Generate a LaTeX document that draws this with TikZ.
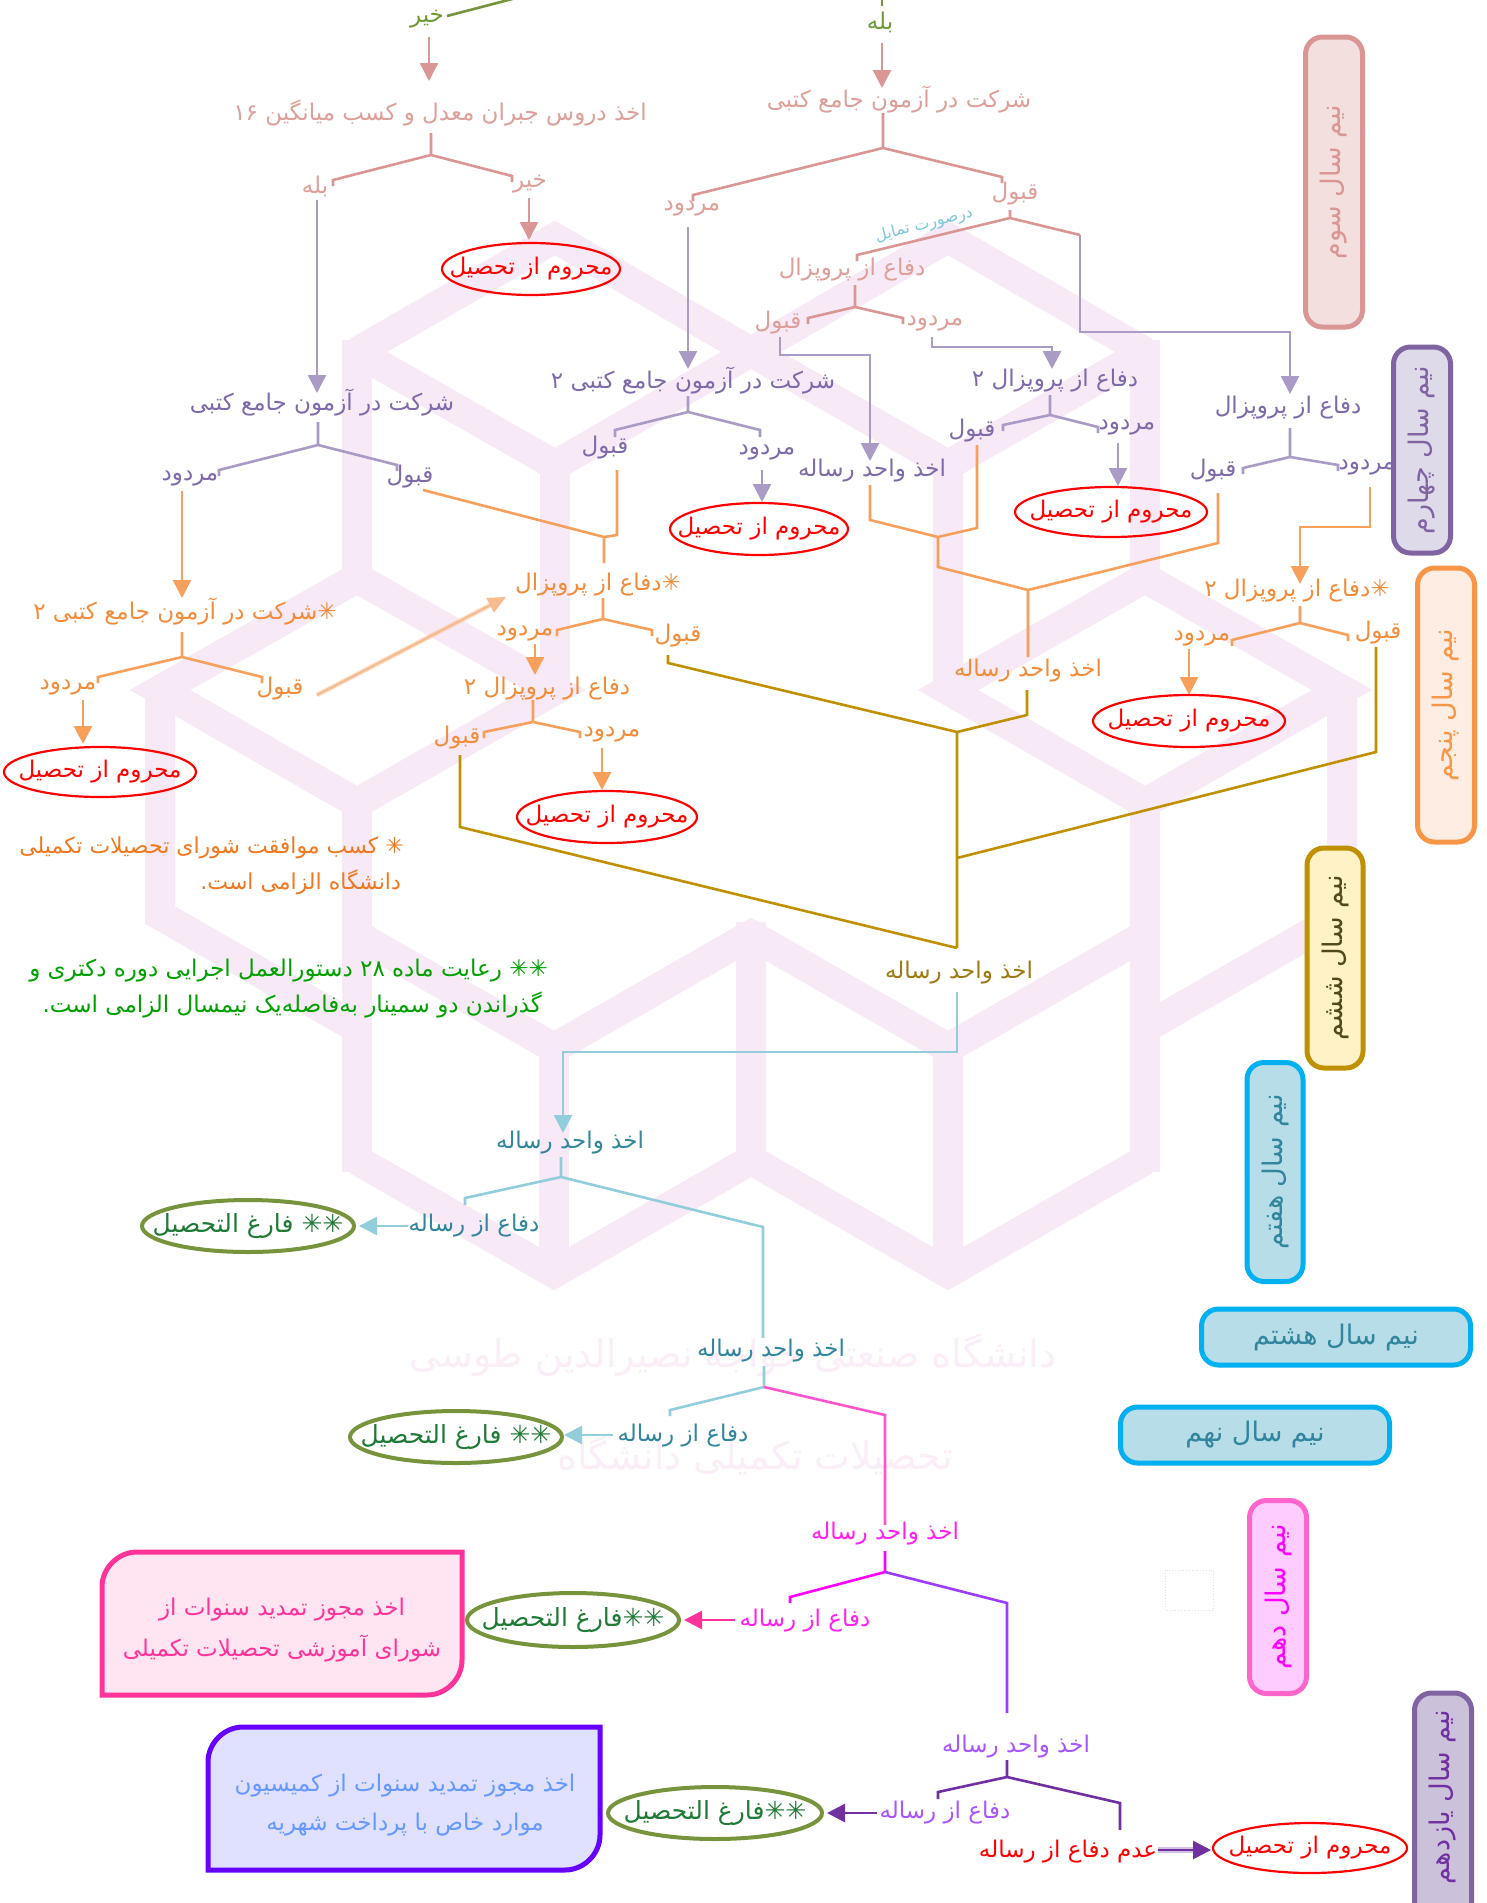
\documentclass[tikz,border=0pt]{standalone}
\usepackage{fontspec}
\TeXXeTstate=1
\newfontfamily\fa[Script=Arabic]{DejaVu Sans}
\usetikzlibrary{arrows.meta,shapes.geometric,calc}
\newcommand\R[1]{\beginR#1\endR}
\definecolor{pb}{HTML}{D99694}
\definecolor{pbt}{HTML}{DE9F99}
\definecolor{gr}{HTML}{77933C}
\definecolor{grtx}{HTML}{6E9B3A}
\definecolor{pl}{HTML}{A99BC6}
\definecolor{plt}{HTML}{7E6AAA}
\definecolor{orl}{HTML}{F6A05C}
\definecolor{ort}{HTML}{F28C3A}
\definecolor{orb}{HTML}{F9BC8E}
\definecolor{gd}{HTML}{BF9000}
\definecolor{gdt}{HTML}{9C7A14}
\definecolor{cyl}{HTML}{92CDDC}
\definecolor{cyt}{HTML}{31859C}
\definecolor{tam}{HTML}{7CC8D8}
\definecolor{pkl}{HTML}{FF55CC}
\definecolor{pka}{HTML}{FF3399}
\definecolor{mg}{HTML}{FF00FF}
\definecolor{mgt}{HTML}{FF22EE}
\definecolor{vl}{HTML}{9B3DFF}
\definecolor{dv}{HTML}{7030A0}
\definecolor{vt}{HTML}{A855FF}
\definecolor{fgt}{HTML}{1F7A35}
\definecolor{fn1}{HTML}{F07820}
\definecolor{fn2}{HTML}{00A000}
\definecolor{pkbf}{HTML}{FFE4F2}
\definecolor{pbbf}{HTML}{E0E0FF}
\definecolor{pbbd}{HTML}{6600FF}
\definecolor{pbbt}{HTML}{6699FF}
\definecolor{wmt}{HTML}{FCEEF8}
\definecolor{wmb}{HTML}{F7EAF6}
\tikzset{
  lbl/.style={font=\fa\fontsize{23}{27}\selectfont,inner sep=0pt},
  ln/.style={line width=2.6pt},
  arr/.style={ln,-{Triangle[width=18pt,length=18pt]}},
  redell/.style={draw=red,line width=2.2pt},
  grell/.style={draw=gr,line width=4pt},
  elltxt/.style={font=\fa\fontsize{23}{27}\selectfont,inner sep=0pt,text=red},
  fartxt/.style={font=\fa\fontsize{25}{29}\selectfont,inner sep=0pt,text=fgt},
  sembox/.style={rounded corners=17pt,line width=5pt,inner sep=0pt,font=\fa\fontsize{27}{31}\selectfont},
  foot/.style={font=\fa\fontsize{22}{26}\selectfont,inner sep=0pt,anchor=east},
  wmband/.style={draw=wmb,line width=30pt,line join=miter,line cap=butt},
}
\begin{document}
\begin{tikzpicture}[x=1pt,y=-1pt]
\useasboundingbox (0,0) rectangle (1487,1903);
\fill[white] (0,0) rectangle (1487,1903);

% ---------- background cube pattern ----------
\draw[wmband] (357,352) -- (555,238) -- (751,352) -- (948,238) -- (1145,352);
\draw[wmband] (357,352) -- (555,465) -- (751,352) -- (948,465) -- (1145,352);
\draw[wmband] (357,340) -- (357,578) (555,465) -- (555,690) (948,465) -- (948,690) (1145,340) -- (1145,578);
\draw[wmband] (160,690) -- (357,578) -- (555,690) -- (357,803) -- cycle;
\draw[wmband] (160,690) -- (160,915) -- (357,1028);
\draw[wmband] (357,803) -- (357,1172);
\draw[wmband] (948,690) -- (1145,578) -- (1342,690) -- (1145,803) -- cycle;
\draw[wmband] (1342,690) -- (1342,915) -- (1145,1028);
\draw[wmband] (1145,803) -- (1145,1172);
\draw[wmband] (357,935) -- (554,1048) -- (751,935) -- (948,1048) -- (1145,935);
\draw[wmband] (554,1048) -- (554,1273) (751,922) -- (751,1160) (948,1048) -- (948,1273);
\draw[wmband] (357,1160) -- (554,1273) -- (751,1160) -- (948,1273) -- (1145,1160);

% faint watermark text
\node[font=\fa\fontsize{38}{42}\selectfont,text=wmt,inner sep=0pt] (wm1) at (733,1355) {\R{دانشگاه صنعتی خواجه نصیرالدین طوسی}};
\node[font=\fa\fontsize{38}{42}\selectfont,text=wmt,inner sep=0pt] (wm2) at (755,1455) {\R{تحصیلات تکمیلی دانشگاه}};

% ---------- top left ----------
\coordinate (gA) at (516,-2); \coordinate (gB) at (447,16);
\draw[ln,gr] (gA) -- (gB);
\coordinate (gC) at (882,-2); \coordinate (gD) at (882,6);
\draw[ln,gr] (gC) -- (gD);
\node[lbl,text=grtx] (kh1) at (427,19) {\R{خیر}};
\node[lbl,text=grtx] (bl1) at (880,22) {\R{بله}};
\coordinate (a1s) at (429,37); \coordinate (a1e) at (429,81);
\draw[arr,pb] (a1s) -- (a1e);
\node[lbl,text=pbt] (jobran) at (440,113) {\R{اخذ دروس جبران معدل و کسب میانگین ۱۶}};
\coordinate (jbS) at (431,133); \coordinate (jbJ) at (431,155);
\coordinate (jbL) at (333,180); \coordinate (jbLt) at (333,186);
\coordinate (jbR) at (512,176); \coordinate (jbRt) at (512,182);
\draw[ln,pb] (jbS) -- (jbJ) (jbLt) -- (jbL) -- (jbJ) -- (jbR) -- (jbRt);
\node[lbl,text=pbt] (bl2) at (315,186) {\R{بله}};
\node[lbl,text=pbt] (kh2) at (530,184) {\R{خیر}};
\coordinate (a2s) at (529,198); \coordinate (a2e) at (529,240);
\draw[arr,pb] (a2s) -- (a2e);
\node[elltxt] (m1) at (531,269) {\R{محروم از تحصیل}};
\draw[redell] (m1.center) ellipse [x radius=89pt,y radius=26pt];

% purple left
\coordinate (a3s) at (317,200); \coordinate (a3e) at (317,393);
\draw[arr,pl] (a3s) -- (a3e);
\node[lbl,text=plt] (sk1) at (322,403) {\R{شرکت در آزمون جامع کتبی}};
\coordinate (s1S) at (318,422); \coordinate (s1J) at (318,445);
\coordinate (s1L) at (219,470); \coordinate (s1Lt) at (219,476);
\coordinate (s1R) at (397,465); \coordinate (s1Rt) at (397,471);
\draw[ln,pl] (s1S) -- (s1J) (s1Lt) -- (s1L) -- (s1J) -- (s1R) -- (s1Rt);
\node[lbl,text=plt] (md1) at (190,479) {\R{مردود}};
\node[lbl,text=plt] (qb1) at (410,477) {\R{قبول}};

% orange left
\coordinate (a4s) at (182,491); \coordinate (a4e) at (182,598);
\draw[arr,orl] (a4s) -- (a4e);
\node[lbl,text=ort] (sk2) at (185,612) {\R{✳شرکت در آزمون جامع کتبی ۲}};
\coordinate (s2S) at (182,632); \coordinate (s2J) at (182,657);
\coordinate (s2L) at (98,677); \coordinate (s2Lt) at (98,683);
\coordinate (s2R) at (262,677); \coordinate (s2Rt) at (262,683);
\draw[ln,orl] (s2S) -- (s2J) (s2Lt) -- (s2L) -- (s2J) -- (s2R) -- (s2Rt);
\node[lbl,text=ort] (md2) at (68,688) {\R{مردود}};
\node[lbl,text=ort] (qb2) at (280,689) {\R{قبول}};
\coordinate (a5s) at (83,700); \coordinate (a5e) at (83,744);
\draw[arr,orl] (a5s) -- (a5e);
\node[elltxt] (m2) at (100,772) {\R{محروم از تحصیل}};
\draw[redell] (m2.center) ellipse [x radius=96pt,y radius=25pt];
\coordinate (a6s) at (317,695); \coordinate (a6e) at (506,597);
\draw[line width=5pt,orb,opacity=0.35] (a6s) -- ($(a6s)!0.93!(a6e)$);
\draw[ln,orb,-{Triangle[width=16pt,length=18pt]}] (a6s) -- (a6e);

% ---------- top right ----------
\coordinate (a7s) at (882,43); \coordinate (a7e) at (882,88);
\draw[arr,pb] (a7s) -- (a7e);
\node[lbl,text=pbt] (sk3) at (899,100) {\R{شرکت در آزمون جامع کتبی}};
\coordinate (s3S) at (883,113); \coordinate (s3J) at (883,148);
\coordinate (s3L) at (693,195); \coordinate (s3Lt) at (693,201);
\coordinate (s3R) at (1002,177); \coordinate (s3Rt) at (1002,183);
\draw[ln,pb] (s3S) -- (s3J) (s3Lt) -- (s3L) -- (s3J) -- (s3R) -- (s3Rt);
\node[lbl,text=pbt] (md3) at (692,209) {\R{مردود}};
\node[lbl,text=pbt] (qb3) at (1015,194) {\R{قبول}};
\coordinate (q3S) at (1010,210); \coordinate (q3J) at (1010,218);
\coordinate (q3R) at (1080,235); \coordinate (q3L) at (857,255); \coordinate (q3Lt) at (857,261);
\draw[ln,pb] (q3S) -- (q3J) -- (q3R) (q3J) -- (q3L) -- (q3Lt);
\coordinate (p1) at (1080,332); \coordinate (p2) at (1290,332); \coordinate (p3) at (1290,394);
\draw[arr,pl] (q3R) -- (p1) -- (p2) -- (p3);
\node[font=\fa\fontsize{16}{19}\selectfont,text=tam,inner sep=0pt,rotate=14] (tam) at (924,225) {\R{درصورت تمایل}};
\node[lbl,text=pbt] (df1) at (852,270) {\R{دفاع از پروپزال}};
\coordinate (d1S) at (855,285); \coordinate (d1J) at (855,307);
\coordinate (d1L) at (808,318); \coordinate (d1Lt) at (808,324);
\coordinate (d1R) at (903,318); \coordinate (d1Rt) at (903,324);
\draw[ln,pb] (d1S) -- (d1J) (d1Lt) -- (d1L) -- (d1J) -- (d1R) -- (d1Rt);
\node[lbl,text=pbt] (qb4) at (778,323) {\R{قبول}};
\node[lbl,text=pbt] (md4) at (935,324) {\R{مردود}};
\coordinate (p4) at (780,337); \coordinate (p5) at (780,355); \coordinate (p6) at (870,355); \coordinate (p7) at (870,461);
\draw[arr,pl] (p4) -- (p5) -- (p6) -- (p7);
\node[lbl,text=plt] (ak1) at (872,471) {\R{اخذ واحد رساله}};
\coordinate (p8) at (932,337); \coordinate (p9) at (932,347); \coordinate (p10) at (1052,347); \coordinate (p11) at (1052,369);
\draw[arr,pl] (p8) -- (p9) -- (p10) -- (p11);
\node[lbl,text=plt] (df2) at (1055,381) {\R{دفاع از پروپزال ۲}};
\coordinate (d2S) at (1050,395); \coordinate (d2J) at (1050,415);
\coordinate (d2L) at (1003,425); \coordinate (d2Lt) at (1003,431);
\coordinate (d2R) at (1098,427); \coordinate (d2Rt) at (1098,433);
\draw[ln,pl] (d2S) -- (d2J) (d2Lt) -- (d2L) -- (d2J) -- (d2R) -- (d2Rt);
\node[lbl,text=plt] (qb5) at (972,431) {\R{قبول}};
\node[lbl,text=plt] (md5) at (1127,428) {\R{مردود}};
\coordinate (a8s) at (1118,443); \coordinate (a8e) at (1118,486);
\draw[arr,pl] (a8s) -- (a8e);
\node[elltxt] (m3) at (1111,512) {\R{محروم از تحصیل}};
\draw[redell] (m3.center) ellipse [x radius=96pt,y radius=25pt];
\node[lbl,text=plt] (df3) at (1288,408) {\R{دفاع از پروپزال}};
\coordinate (d3S) at (1290,428); \coordinate (d3J) at (1290,457);
\coordinate (d3L) at (1243,468); \coordinate (d3Lt) at (1243,474);
\coordinate (d3R) at (1338,465); \coordinate (d3Rt) at (1338,471);
\draw[ln,pl] (d3S) -- (d3J) (d3Lt) -- (d3L) -- (d3J) -- (d3R) -- (d3Rt);
\node[lbl,text=plt] (qb6) at (1213,471) {\R{قبول}};
\node[lbl,text=plt] (md6) at (1367,468) {\R{مردود}};

% purple middle
\coordinate (a9s) at (688,227); \coordinate (a9e) at (688,369);
\draw[arr,pl] (a9s) -- (a9e);
\node[lbl,text=plt] (sk4) at (693,381) {\R{شرکت در آزمون جامع کتبی ۲}};
\coordinate (s4S) at (688,396); \coordinate (s4J) at (688,412);
\coordinate (s4L) at (615,430); \coordinate (s4Lt) at (615,437);
\coordinate (s4R) at (760,430); \coordinate (s4Rt) at (760,437);
\draw[ln,pl] (s4S) -- (s4J) (s4Lt) -- (s4L) -- (s4J) -- (s4R) -- (s4Rt);
\node[lbl,text=plt] (qb7) at (605,448) {\R{قبول}};
\node[lbl,text=plt] (md7) at (767,453) {\R{مردود}};
\coordinate (a10s) at (762,470); \coordinate (a10e) at (762,502);
\draw[arr,pl] (a10s) -- (a10e);
\node[elltxt] (m4) at (759,529) {\R{محروم از تحصیل}};
\draw[redell] (m4.center) ellipse [x radius=89pt,y radius=26pt];

% orange middle
\coordinate (o1) at (617,470); \coordinate (o2) at (617,535); \coordinate (J1) at (604,537);
\coordinate (o3) at (423,490); \coordinate (o4) at (604,563);
\draw[ln,orl] (o1) -- (o2) -- (J1) (o3) -- (J1) -- (o4);
\node[lbl,text=ort] (df4) at (598,585) {\R{✳دفاع از پروپزال}};
\coordinate (d4S) at (603,598); \coordinate (d4J) at (603,619);
\coordinate (d4L) at (557,630); \coordinate (d4Lt) at (557,636);
\coordinate (d4R) at (652,630); \coordinate (d4Rt) at (652,636);
\draw[ln,orl] (d4S) -- (d4J) (d4Lt) -- (d4L) -- (d4J) -- (d4R) -- (d4Rt);
\node[lbl,text=ort] (md8) at (525,634) {\R{مردود}};
\node[lbl,text=ort] (qb8) at (678,636) {\R{قبول}};
\coordinate (a11s) at (535,644); \coordinate (a11e) at (535,675);
\draw[arr,orl] (a11s) -- (a11e);
\node[lbl,text=ort] (df5) at (547,689) {\R{دفاع از پروپزال ۲}};
\coordinate (d5S) at (533,700); \coordinate (d5J) at (533,722);
\coordinate (d5L) at (484,732); \coordinate (d5Lt) at (484,738);
\coordinate (d5R) at (580,732); \coordinate (d5Rt) at (580,738);
\draw[ln,orl] (d5S) -- (d5J) (d5Lt) -- (d5L) -- (d5J) -- (d5R) -- (d5Rt);
\node[lbl,text=ort] (qb9) at (457,738) {\R{قبول}};
\node[lbl,text=ort] (md9) at (612,735) {\R{مردود}};
\coordinate (a12s) at (602,748); \coordinate (a12e) at (602,790);
\draw[arr,orl] (a12s) -- (a12e);
\node[elltxt] (m5) at (607,817) {\R{محروم از تحصیل}};
\draw[redell] (m5.center) ellipse [x radius=90pt,y radius=26pt];

\coordinate (o5) at (870,485); \coordinate (o6) at (870,520); \coordinate (J2) at (938,537);
\coordinate (o7) at (977,445); \coordinate (o8) at (977,528);
\coordinate (o9) at (938,567); \coordinate (J3) at (1028,590);
\coordinate (o10) at (1218,493); \coordinate (o11) at (1218,543); \coordinate (o12) at (1028,657);
\draw[ln,orl] (o5) -- (o6) -- (J2) (o7) -- (o8) -- (J2) -- (o9) -- (J3) (o10) -- (o11) -- (J3) -- (o12);
\node[lbl,text=ort] (ak2) at (1028,671) {\R{اخذ واحد رساله}};
\coordinate (o13) at (1370,487); \coordinate (o14) at (1370,527); \coordinate (o15) at (1300,527); \coordinate (o16) at (1300,584);
\draw[arr,orl] (o13) -- (o14) -- (o15) -- (o16);
\node[lbl,text=ort] (df6) at (1297,591) {\R{✳دفاع از پروپزال ۲}};
\coordinate (d6S) at (1300,606); \coordinate (d6J) at (1300,623);
\coordinate (d6L) at (1232,640); \coordinate (d6Lt) at (1232,646);
\coordinate (d6R) at (1348,635); \coordinate (d6Rt) at (1348,641);
\draw[ln,orl] (d6S) -- (d6J) (d6Lt) -- (d6L) -- (d6J) -- (d6R) -- (d6Rt);
\node[lbl,text=ort] (md10) at (1202,639) {\R{مردود}};
\node[lbl,text=ort] (qb10) at (1378,633) {\R{قبول}};
\coordinate (a13s) at (1189,649); \coordinate (a13e) at (1189,695);
\draw[arr,orl] (a13s) -- (a13e);
\node[elltxt] (m6) at (1189,721) {\R{محروم از تحصیل}};
\draw[redell] (m6.center) ellipse [x radius=96pt,y radius=26pt];

% gold
\coordinate (g1) at (668,655); \coordinate (g2) at (668,663); \coordinate (J4) at (957,732);
\coordinate (g3) at (1027,690); \coordinate (g4) at (1027,715);
\coordinate (J5) at (957,858); \coordinate (J6) at (957,948);
\coordinate (g5) at (1376,647); \coordinate (g6) at (1376,752);
\coordinate (g7) at (460,755); \coordinate (g8) at (460,827);
\draw[ln,gd] (g1) -- (g2) -- (J4) (g3) -- (g4) -- (J4) -- (J5) -- (J6) (g5) -- (g6) -- (J5) (g7) -- (g8) -- (J6);
\node[lbl,text=gdt] (ak3) at (959,973) {\R{اخذ واحد رساله}};

% footnotes
\node[foot,text=fn1] (ft1a) at (404,848) {\R{✳ کسب موافقت شورای تحصیلات تکمیلی}};
\node[foot,text=fn1] (ft1b) at (401,882) {\R{دانشگاه الزامی است.}};
\node[foot,text=fn2,font=\fa\fontsize{23}{27}\selectfont] (ft2a) at (548,971) {\R{✳✳ رعایت ماده ۲۸ دستورالعمل اجرایی دوره دکتری و}};
\node[foot,text=fn2,font=\fa\fontsize{23}{27}\selectfont] (ft2b) at (542,1005) {\R{گذراندن دو سمینار به‌فاصله‌یک نیمسال الزامی است.}};

% cyan
\coordinate (c1) at (957,992); \coordinate (c2) at (957,1052); \coordinate (c3) at (563,1052); \coordinate (c4) at (563,1133);
\draw[arr,cyl] (c1) -- (c2) -- (c3) -- (c4);
\node[lbl,text=cyt] (ak4) at (570,1143) {\R{اخذ واحد رساله}};
\coordinate (k1S) at (561,1157); \coordinate (k1J) at (561,1177);
\coordinate (k1L) at (465,1198); \coordinate (k1Lt) at (465,1205);
\coordinate (k1R) at (763,1227); \coordinate (k1Rb) at (763,1338);
\draw[ln,cyl] (k1S) -- (k1J) (k1Lt) -- (k1L) -- (k1J) -- (k1R) -- (k1Rb);
\node[lbl,text=cyt] (dr1) at (474,1226) {\R{دفاع از رساله}};
\coordinate (a14s) at (408,1226); \coordinate (a14e) at (359,1226);
\draw[arr,cyl] (a14s) -- (a14e);
\node[fartxt] (f1) at (248,1226) {\R{✳✳ فارغ التحصیل}};
\draw[grell] (f1.center) ellipse [x radius=106pt,y radius=26pt];

\node[lbl,text=cyt] (ak5) at (771,1351) {\R{اخذ واحد رساله}};
\coordinate (k2S) at (764,1366); \coordinate (k2J) at (764,1387);
\coordinate (k2L) at (670,1410); \coordinate (k2Lt) at (670,1416);
\coordinate (k2R) at (885,1415); \coordinate (k2Rb) at (885,1525);
\draw[ln,cyl] (k2S) -- (k2J) (k2Lt) -- (k2L) -- (k2J);
\draw[ln,pkl] (k2J) -- (k2R) -- (k2Rb);
\node[lbl,text=cyt] (dr2) at (683,1436) {\R{دفاع از رساله}};
\coordinate (a15s) at (613,1435); \coordinate (a15e) at (564,1435);
\draw[arr,cyl] (a15s) -- (a15e);
\node[fartxt] (f2) at (456,1437) {\R{✳✳ فارغ التحصیل}};
\draw[grell] (f2.center) ellipse [x radius=106pt,y radius=26pt];

\node[lbl,text=mgt] (ak6) at (885,1534) {\R{اخذ واحد  رساله}};
\coordinate (k3S) at (885,1551); \coordinate (k3J) at (885,1572);
\coordinate (k3L) at (790,1597); \coordinate (k3Lt) at (790,1603);
\coordinate (k3R) at (1007,1603); \coordinate (k3Rb) at (1007,1713);
\draw[ln,mg] (k3S) -- (k3J) (k3Lt) -- (k3L) -- (k3J);
\draw[ln,vl] (k3J) -- (k3R) -- (k3Rb);
\node[lbl,text=mgt] (dr3) at (805,1621) {\R{دفاع از رساله}};
\coordinate (a16s) at (735,1620); \coordinate (a16e) at (684,1620);
\draw[arr,pka] (a16s) -- (a16e);
\node[fartxt] (f3) at (573,1620) {\R{✳✳فارغ التحصیل}};
\draw[grell] (f3.center) ellipse [x radius=106pt,y radius=27pt];

\draw[line width=5pt,draw=pka,fill=pkbf] (102,1695) -- (102,1587) .. controls (102,1568) and (118,1552) .. (137,1552) -- (462,1552) -- (462,1660) .. controls (462,1679) and (446,1695) .. (427,1695) -- cycle;
\node[font=\fa\fontsize{23}{27}\selectfont,text=pka,align=center,inner sep=0pt] (pbox) at (282,1630) {\R{اخذ مجوز تمدید سنوات از}\\[12pt]\R{شورای آموزشی تحصیلات تکمیلی}};

\node[lbl,text=vt] (ak7) at (1016,1747) {\R{اخذ واحد رساله}};
\coordinate (k4S) at (1007,1760); \coordinate (k4J) at (1007,1777);
\coordinate (k4L) at (938,1792); \coordinate (k4Lt) at (938,1799);
\coordinate (k4R) at (1120,1803); \coordinate (k4Rb) at (1120,1830);
\draw[ln,dv] (k4S) -- (k4J) (k4Lt) -- (k4L) -- (k4J) -- (k4R) -- (k4Rb);
\node[lbl,text=vt] (dr4) at (945,1813) {\R{دفاع از رساله}};
\coordinate (a17s) at (877,1813); \coordinate (a17e) at (827,1813);
\draw[arr,dv] (a17s) -- (a17e);
\node[fartxt] (f4) at (715,1813) {\R{✳✳فارغ التحصیل}};
\draw[grell] (f4.center) ellipse [x radius=107pt,y radius=26pt];

\draw[line width=5pt,draw=pbbd,fill=pbbf] (208,1870) -- (208,1762) .. controls (208,1743) and (224,1727) .. (243,1727) -- (600,1727) -- (600,1835) .. controls (600,1854) and (584,1870) .. (565,1870) -- cycle;
\node[font=\fa\fontsize{23}{27}\selectfont,text=pbbt,align=center,inner sep=0pt] (vbox) at (405,1805) {\R{اخذ مجوز تمدید سنوات از کمیسیون}\\[12pt]\R{موارد خاص با پرداخت شهریه}};

\node[lbl,text=red] (adam) at (1068,1852) {\R{عدم دفاع از رساله}};
\coordinate (a18s) at (1158,1850); \coordinate (a18e) at (1211,1850);
\draw[line width=6pt,dv,opacity=0.3] (a18s) -- (1195,1850);
\draw[arr,dv] (a18s) -- (a18e);
\node[elltxt] (m7) at (1310,1848) {\R{محروم از تحصیل}};
\draw[redell] (m7.center) ellipse [x radius=97pt,y radius=25pt];

\draw[gray!25,dotted,line width=0.8pt] (1165,1570) rectangle (1213,1610);

% ---------- semester boxes ----------
\node[sembox,rotate=90,draw=pb,fill=pb!30,text=pb,minimum width=290pt,minimum height=57pt] (sem3) at (1334,182) {\R{نیم سال سوم}};
\node[sembox,rotate=90,draw={rgb,255:red,128;green,100;blue,162},fill={rgb,255:red,223;green,218;blue,234},text={rgb,255:red,128;green,100;blue,162},minimum width=206pt,minimum height=57pt] (sem4) at (1422,450) {\R{نیم سال چهارم}};
\node[sembox,rotate=90,draw={rgb,255:red,247;green,150;blue,70},fill={rgb,255:red,253;green,237;blue,227},text={rgb,255:red,247;green,150;blue,70},minimum width=274pt,minimum height=57pt] (sem5) at (1446,705) {\R{نیم سال پنجم}};
\node[sembox,rotate=90,draw=gd,fill={rgb,255:red,255;green,242;blue,198},text={rgb,255:red,80;green,72;blue,30},minimum width=220pt,minimum height=56pt] (sem6) at (1335,958) {\R{نیم سال ششم}};
\node[sembox,rotate=90,draw={rgb,255:red,0;green,176;blue,240},fill={rgb,255:red,183;green,221;blue,232},text=cyt,minimum width=219pt,minimum height=56pt] (sem7) at (1275,1172) {\R{نیم سال هفتم}};
\node[sembox,draw={rgb,255:red,0;green,176;blue,240},fill={rgb,255:red,183;green,221;blue,232},text=cyt,minimum width=269pt,minimum height=56pt] (sem8) at (1336,1337) {\R{نیم سال هشتم}};
\node[sembox,draw={rgb,255:red,0;green,176;blue,240},fill={rgb,255:red,183;green,221;blue,232},text=cyt,minimum width=269pt,minimum height=56pt] (sem9) at (1255,1435) {\R{نیم سال نهم}};
\node[sembox,rotate=90,draw={rgb,255:red,255;green,102;blue,204},fill={rgb,255:red,255;green,204;blue,255},text=mg,minimum width=193pt,minimum height=57pt] (sem10) at (1278,1597) {\R{نیم سال دهم}};
\node[sembox,rotate=90,draw={rgb,255:red,128;green,100;blue,162},fill={rgb,255:red,204;green,193;blue,218},minimum width=240pt,minimum height=57pt] (sem11) at (1443,1813) {};
\node[font=\fa\fontsize{27}{31}\selectfont,rotate=90,text=dv,inner sep=0pt] (sem11t) at (1443,1797) {\R{نیم سال یازدهم}};
\end{tikzpicture}
\end{document}
